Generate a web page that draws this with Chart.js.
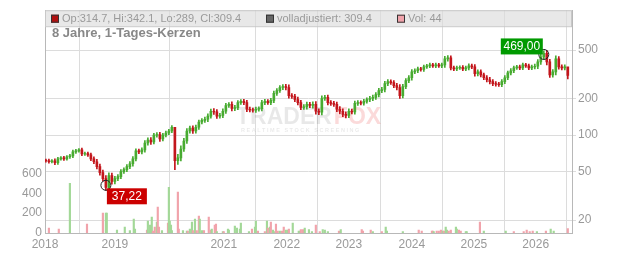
<!DOCTYPE html>
<html>
<head>
<meta charset="utf-8">
<script src="https://cdn.jsdelivr.net/npm/chart.js@4"></script>
<style>
  body { margin: 0; background: #fff; }
  canvas { display: block; }
</style>
</head>
<body>
<canvas id="chart" width="632" height="253"></canvas>
<script>
// closing prices, one sample per ~2.5 weeks
const closes = [
    61.5, 60.4, 61.5, 59.2, 63.8, 65.0, 63.8, 66.3, 67.5, 72.8,
    74.1, 75.5, 70.1, 70.5, 68.8, 63.8, 60.4, 55.0, 49.1, 43.9,
    37.2, 46.4, 41.5, 43.9, 45.6, 50.0, 52.0, 55.0, 58.1, 63.8,
    74.1, 72.8, 75.5, 86.1, 91.1, 87.7, 100, 101, 92.8, 100,
    104, 108, 116, 61.5, 65.0, 76.9, 89.4, 108, 114, 108,
    116, 128, 132, 135, 143, 157, 155, 143, 145, 157,
    175, 179, 166, 168, 185, 189, 185, 163, 161, 160,
    163, 165, 185, 189, 185, 193, 220, 232, 246, 250,
    246, 211, 208, 196, 185, 169, 171, 179, 175, 179,
    157, 154, 200, 204, 185, 182, 179, 163, 157, 148,
    145, 157, 155, 182, 185, 183, 189, 196, 200, 204,
    215, 232, 237, 265, 275, 270, 255, 246, 211, 250,
    280, 296, 331, 338, 350, 346, 364, 371, 378, 371,
    378, 371, 378, 423, 431, 357, 350, 357, 360, 350,
    357, 371, 364, 319, 331, 313, 296, 285, 275, 265,
    262, 260, 275, 296, 325, 338, 357, 364, 357, 378,
    371, 357, 364, 368, 400, 439, 469, 400, 313, 331,
    423, 364, 357, 364, 309.4
];
const firstOpen = 62.0;

// high-low spread around each sample's body, in percent (thickness of the candle band)
const spreads = [
    5, 6, 5, 7, 6, 5, 6, 5, 6, 7,
    6, 5, 7, 6, 6, 7, 8, 9, 10, 10,
    12, 11, 10, 9, 8, 8, 7, 8, 8, 9,
    8, 7, 8, 9, 8, 9, 7, 8, 9, 7,
    7, 6, 6, 22, 14, 12, 10, 9, 8, 9,
    8, 8, 7, 8, 9, 8, 10, 9, 8, 9,
    8, 7, 10, 9, 8, 7, 8, 9, 8, 7,
    8, 7, 9, 8, 7, 8, 9, 8, 7, 8,
    9, 10, 8, 8, 9, 9, 8, 9, 8, 10,
    11, 9, 10, 8, 9, 8, 8, 9, 10, 9,
    10, 9, 8, 9, 8, 7, 8, 7, 8, 9,
    8, 9, 8, 9, 8, 7, 8, 9, 11, 9,
    8, 8, 9, 7, 7, 6, 7, 6, 7, 6,
    7, 6, 7, 10, 9, 8, 7, 7, 6, 7,
    7, 8, 7, 9, 8, 8, 7, 8, 9, 8,
    8, 7, 8, 8, 7, 8, 7, 6, 7, 7,
    6, 7, 7, 8, 9, 10, 10, 12, 10, 9,
    12, 9, 8, 8, 10
];

// wicks read directly where they stand out
const spikeIdx = [43, 174];
const spikeLo = [52, 289];
const spikeHi = [116, 342.1];

// volume bars (position in sample units, value, 1 = up day)
const volPos = [1.0, 4.3, 8.0, 13.7, 19.0, 20.0, 20.3, 23.7, 26.3, 28.0, 29.3, 29.7, 33.7, 34.0, 34.7, 35.3, 35.7, 36.3,
    37.0, 37.3, 37.7, 38.7, 40.7, 41.0, 41.3, 41.7, 42.0, 44.0, 44.3, 45.7, 47.0, 47.3, 48.0, 48.7, 49.0, 49.7, 50.3,
    51.0, 51.3, 52.0, 52.3, 52.7, 54.3, 55.0, 55.3, 56.3, 56.7, 57.0, 59.0, 59.3, 60.7, 61.0, 63.0, 63.7, 64.7, 65.0,
    67.7, 68.7, 69.7, 70.0, 70.7, 73.0, 73.7, 74.0, 74.7, 75.0, 75.7, 76.0, 76.7, 77.3, 78.0, 78.7, 79.3, 80.0, 80.7,
    81.0, 82.3, 84.3, 84.7, 85.0, 85.7, 86.3, 87.7, 88.7, 90.0, 91.3, 92.3, 93.0, 94.0, 97.7, 98.3, 105.3, 105.7, 108.3,
    109.0, 112.0, 113.3, 113.7, 119.0, 124.3, 125.3, 128.7, 129.0, 129.3, 130.3, 131.0, 131.7, 132.3, 132.7, 133.3,
    133.7, 134.3, 135.0, 136.7, 137.0, 137.7, 138.3, 140.0, 140.3, 144.7, 146.0, 153.3, 156.0, 159.3, 160.3, 161.3,
    162.3, 163.7, 166.7, 168.3, 169.3, 174];
const volValues = [50, 40, 500, 90, 200, 200, 200, 30, 60, 25, 140, 40, 30, 120, 80, 160, 20, 60,
    110, 260, 60, 25, 100, 460, 120, 80, 25, 410, 40, 25, 20, 20, 40, 110, 25, 140, 25,
    170, 140, 25, 20, 25, 160, 30, 40, 80, 90, 15, 15, 15, 40, 30, 70, 50, 40, 100,
    15, 40, 60, 120, 20, 15, 120, 50, 60, 110, 30, 15, 90, 20, 20, 20, 60, 30, 30,
    40, 100, 20, 20, 35, 35, 50, 35, 15, 80, 15, 35, 30, 15, 20, 35, 35, 20, 30,
    15, 15, 60, 20, 15, 30, 20, 20, 20, 15, 20, 20, 30, 20, 20, 60,
    30, 20, 30, 60, 40, 30, 20, 15, 15, 110, 20, 20, 15, 15, 30, 15,
    20, 15, 20, 40, 20, 44];
const volUp = [0, 0, 1, 0, 0, 1, 1, 1, 1, 1, 1, 1, 0, 1, 1, 1, 0, 0,
    1, 0, 0, 1, 0, 1, 1, 1, 1, 0, 0, 1, 1, 0, 1, 1, 0, 1, 0,
    0, 1, 1, 1, 0, 0, 0, 1, 0, 0, 1, 1, 0, 1, 1, 1, 1, 1, 1,
    1, 0, 1, 1, 0, 0, 1, 0, 1, 0, 1, 1, 0, 0, 1, 0, 0, 1, 1,
    0, 1, 1, 1, 0, 0, 1, 1, 1, 0, 0, 1, 1, 1, 0, 1, 0, 0, 0,
    1, 0, 1, 1, 1, 0, 0, 0, 0, 1, 0, 0, 0, 1, 0, 1,
    1, 0, 0, 1, 1, 0, 0, 1, 1, 0, 1, 1, 0, 0, 0, 0,
    0, 1, 0, 1, 1, 0];

const yearPos = [-0.3, 23.0, 59.3, 80.3, 101.0, 122.0, 142.7, 163.3];
const yearLabels = ['2018', '2019', '2021', '2022', '2023', '2024', '2025', '2026'];
const priceTicks = [20, 50, 100, 200, 500];
const volTicks = [0, 200, 400, 600];

const lowIdx = 20, lowVal = 37.22;
const highIdx = 166, highVal = 469.00;

const UP = '#47ab30', DOWN = '#c3161c';
const FONT = '"Liberation Sans", Arial, sans-serif';

// candle bodies: open = previous close
const opens = closes.map((c, i) => i === 0 ? firstOpen : closes[i - 1]);
const bodies = closes.map((c, i) => ({ x: i, y: [opens[i], c] }));
const bodyColors = closes.map((c, i) => c >= opens[i] ? UP : DOWN);
const wicks = closes.map((c, i) => {
    const k = spikeIdx.indexOf(i);
    if (k >= 0) return { x: i, y: [spikeLo[k], spikeHi[k]] };
    const f = 1 + spreads[i] / 200;
    return { x: i, y: [Math.min(opens[i], c) / f, Math.max(opens[i], c) * f] };
});
const vols = volPos.map((p, k) => ({ x: p, y: volValues[k] }));
const volColors = volUp.map(u => u ? '#a3d898' : '#f1a3ab');

const overlay = {
    id: 'overlay',
    beforeDraw(chart) {
        const { ctx, chartArea: a } = chart;
        ctx.save();
        ctx.fillStyle = '#e8e8e8';
        ctx.fillRect(a.left, a.top, a.right - a.left, 16);
        ctx.restore();
    },
    beforeDatasetsDraw(chart) {
        const { ctx } = chart;
        ctx.save();
        ctx.textBaseline = 'alphabetic';
        ctx.font = 'bold 23px ' + FONT;
        ctx.fillStyle = 'rgba(0,0,0,0.09)';
        ctx.fillText('TRADER', 236, 124);
        const w = ctx.measureText('TRADER').width;
        ctx.fillStyle = 'rgba(235,70,70,0.2)';
        ctx.fillText('FOX', 236 + w + 2, 124);
        ctx.font = 'bold 5.5px ' + FONT;
        ctx.fillStyle = 'rgba(0,0,0,0.09)';
        ctx.fillText('R E A L T I M E   S T O C K   S C R E E N I N G', 241, 132);
        ctx.restore();
    },
    afterDraw(chart) {
        const { ctx, chartArea: a, scales } = chart;
        ctx.save();
        ctx.strokeStyle = '#c8c8c8';
        ctx.lineWidth = 1;
        ctx.strokeRect(a.left + 0.5, a.top + 0.5, a.right - a.left - 1, 16);

        // header legend
        ctx.font = '11px ' + FONT;
        ctx.textBaseline = 'middle';
        const hy = a.top + 8.5;
        const items = [
            { x: 51, fill: '#b01010', text: 'Op:314.7, Hi:342.1, Lo:289, Cl:309.4' },
            { x: 266, fill: '#666666', text: 'volladjustiert: 309.4' },
            { x: 397, fill: '#f1a3ab', text: 'Vol: 44' }
        ];
        items.forEach(it => {
            ctx.fillStyle = it.fill;
            ctx.fillRect(it.x, hy - 4, 8, 8);
            ctx.strokeStyle = '#333';
            ctx.strokeRect(it.x + 0.5, hy - 3.5, 7, 7);
            ctx.fillStyle = '#9a9a9a';
            ctx.fillText(it.text, it.x + 11, hy);
        });

        ctx.font = 'bold 13px ' + FONT;
        ctx.fillStyle = '#888';
        ctx.fillText('8 Jahre, 1-Tages-Kerzen', 52, 33);

        // low / high markers
        const lx = scales.x.getPixelForValue(lowIdx), ly = scales.y.getPixelForValue(lowVal);
        const hx = scales.x.getPixelForValue(highIdx), hyy = scales.y.getPixelForValue(highVal);
        ctx.strokeStyle = '#222';
        ctx.lineWidth = 1;
        [[lx, ly - 2], [hx, hyy + 1]].forEach(([x, y]) => {
            ctx.beginPath();
            ctx.arc(x, y, 5, 0, Math.PI * 2);
            ctx.stroke();
        });
        ctx.font = '12px ' + FONT;
        ctx.textAlign = 'center';
        ctx.fillStyle = '#cc0000';
        ctx.fillRect(lx + 1, ly + 1, 40, 16);
        ctx.fillStyle = '#fff';
        ctx.fillText('37,22', lx + 21, ly + 9.5);
        ctx.fillStyle = '#009a00';
        ctx.fillRect(hx - 43, hyy - 15, 42, 16);
        ctx.fillStyle = '#fff';
        ctx.fillText('469,00', hx - 22, hyy - 6.5);
        ctx.restore();
    }
};

new Chart(document.getElementById('chart'), {
    type: 'bar',
    data: {
        datasets: [
            { data: bodies, backgroundColor: bodyColors, barThickness: 2, grouped: false, yAxisID: 'y', order: 1 },
            { data: wicks, backgroundColor: bodyColors, barThickness: 1, grouped: false, yAxisID: 'y', order: 2 },
            { data: vols, backgroundColor: volColors, barThickness: 1.5, grouped: false, yAxisID: 'vol', order: 3 }
        ]
    },
    options: {
        responsive: false,
        animation: false,
        devicePixelRatio: 1,
        layout: { padding: { top: 8, left: 0, right: 0, bottom: 0 } },
        plugins: { legend: { display: false }, tooltip: { enabled: false } },
        scales: {
            x: {
                type: 'linear',
                min: -0.3,
                max: 175.4,
                offset: false,
                afterBuildTicks: s => { s.ticks = yearPos.map(v => ({ value: v })); },
                afterFit: s => { s.height = 20; },
                grid: { color: '#dcdcdc', drawTicks: false },
                border: { color: '#b8b8b8' },
                ticks: {
                    autoSkip: false, maxRotation: 0, padding: 4,
                    color: '#999', font: { size: 12, family: FONT },
                    callback: (v, i) => yearLabels[i]
                }
            },
            y: {
                type: 'logarithmic',
                position: 'right',
                min: 15.67,
                max: 1063,
                afterBuildTicks: s => { s.ticks = priceTicks.map(v => ({ value: v })); },
                afterFit: s => { s.width = 60; },
                grid: { color: '#dcdcdc', tickLength: 4 },
                border: { color: '#b8b8b8' },
                ticks: {
                    autoSkip: false, padding: 2,
                    color: '#999', font: { size: 12, family: FONT },
                    callback: v => String(v)
                }
            },
            vol: {
                type: 'linear',
                position: 'left',
                min: 0,
                max: 2239,
                afterBuildTicks: s => { s.ticks = volTicks.map(v => ({ value: v })); },
                afterFit: s => { s.width = 45; },
                grid: { display: false, drawTicks: false },
                border: { display: true, color: '#b8b8b8' },
                ticks: {
                    autoSkip: false, padding: 3,
                    color: '#999', font: { size: 12, family: FONT },
                    callback: v => String(v)
                }
            }
        }
    },
    plugins: [overlay]
});
</script>
</body>
</html>
